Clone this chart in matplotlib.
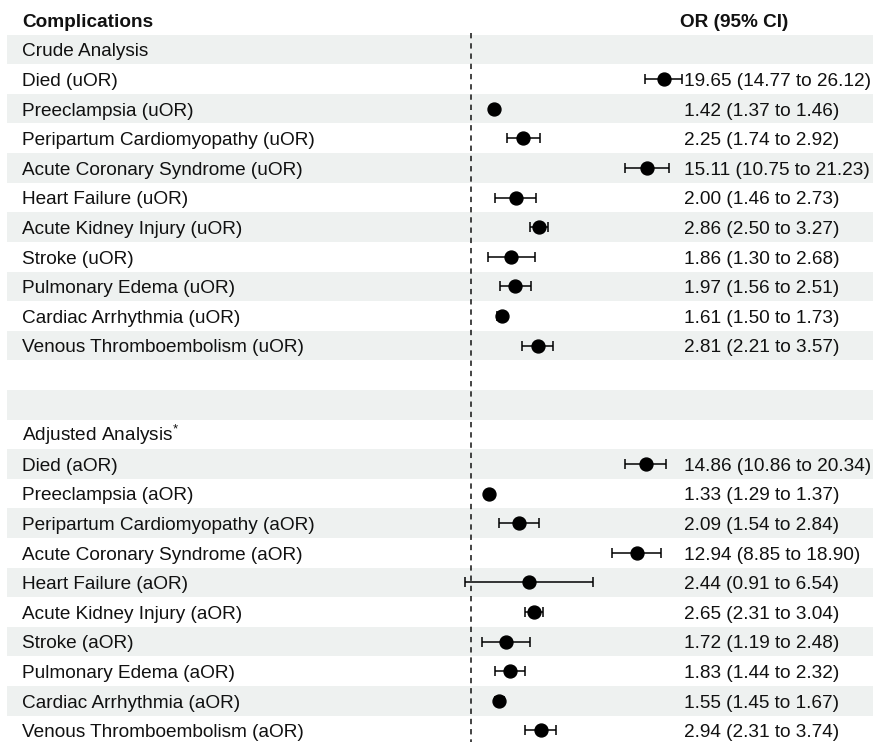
import matplotlib.pyplot as plt
import numpy as np

plt.rcParams['font.family'] = ['Liberation Sans', 'DejaVu Sans']
plt.rcParams['mathtext.fontset'] = 'custom'
plt.rcParams['mathtext.rm'] = 'Liberation Sans'

# Werte aus der Abbildung
complications = ["Died", "Preeclampsia", "Peripartum Cardiomyopathy",
                 "Acute Coronary Syndrome", "Heart Failure", "Acute Kidney Injury",
                 "Stroke", "Pulmonary Edema", "Cardiac Arrhythmia",
                 "Venous Thromboembolism"]
crude_or = [19.65, 1.42, 2.25, 15.11, 2.00, 2.86, 1.86, 1.97, 1.61, 2.81]
crude_lo = [14.77, 1.37, 1.74, 10.75, 1.46, 2.50, 1.30, 1.56, 1.50, 2.21]
crude_hi = [26.12, 1.46, 2.92, 21.23, 2.73, 3.27, 2.68, 2.51, 1.73, 3.57]
adj_or = [14.86, 1.33, 2.09, 12.94, 2.44, 2.65, 1.72, 1.83, 1.55, 2.94]
adj_lo = [10.86, 1.29, 1.54, 8.85, 0.91, 2.31, 1.19, 1.44, 1.45, 2.31]
adj_hi = [20.34, 1.37, 2.84, 18.90, 6.54, 3.04, 2.48, 2.32, 1.67, 3.74]

# Zeilen aufbauen: Label, OR, unten, oben
rows = [("Crude Analysis", None, None, None)]
for name, o, lo, hi in zip(complications, crude_or, crude_lo, crude_hi):
    rows.append((name + " (uOR)", o, lo, hi))
rows.append(("", None, None, None))
rows.append(("", None, None, None))
rows.append(("Adjusted Analysis$^{*}$", None, None, None))
for name, o, lo, hi in zip(complications, adj_or, adj_lo, adj_hi):
    rows.append((name + " (aOR)", o, lo, hi))

W, H = 873, 742
row_h = 29.6
y0 = 49.5
ytop = -y0 / row_h
ybot = (H - y0) / row_h

fig = plt.figure(figsize=(W / 100, H / 100), dpi=100)
bg = fig.add_axes([0, 0, 1, 1])
bg.set_xlim(0, W)
bg.set_ylim(ybot, ytop)
bg.axis('off')

fs = 13.7
txt = '#111111'
base = 6.8 / row_h  # Grundlinie unter der Zeilenmitte
for i, (label, o, lo, hi) in enumerate(rows):
    if i % 2 == 0:
        bg.axhspan(i - 0.5, i + 0.5, xmin=7 / W, xmax=1, color='#eef1f0', lw=0, zorder=0)
    bg.text(22, i + base, label, fontsize=fs, va='baseline', ha='left', color=txt)
    if o is not None:
        bg.text(684, i + base, f"{o:.2f} ({lo:.2f} to {hi:.2f})", fontsize=fs,
                va='baseline', ha='left', color=txt)

bg.text(22, -1 + base, "Complications", fontsize=fs, fontweight='bold',
        va='baseline', color=txt)
bg.text(680, -1 + base, "OR (95% CI)", fontsize=fs, fontweight='bold',
        va='baseline', color=txt)

# Forest-Achse mit log-Skala (OR = 1 bei ca. 471 px, 149 px pro Dekade)
x_left, x_right = 440, 700
ax = fig.add_axes([x_left / W, 0, (x_right - x_left) / W, 1])
ax.set_xscale('log')
ax.set_xlim(10 ** ((x_left - 471) / 149), 10 ** ((x_right - 471) / 149))
ax.set_ylim(ybot, ytop)
ax.axis('off')
ax.patch.set_alpha(0)

ax.plot([1, 1], [-0.55, ybot], color='#111111', lw=1.1,
        linestyle=(0, (3.5, 3.2)), zorder=1)

ys = [i for i, r in enumerate(rows) if r[1] is not None]
ors = np.array([rows[i][1] for i in ys])
los = np.array([rows[i][2] for i in ys])
his = np.array([rows[i][3] for i in ys])
ax.errorbar(ors, ys, xerr=[ors - los, his - ors], fmt='o', ms=9.3,
            color='black', ecolor='black', elinewidth=1.1, capsize=3.6,
            capthick=1.1, clip_on=False, zorder=3)

fig.savefig('out.png', dpi=100)
